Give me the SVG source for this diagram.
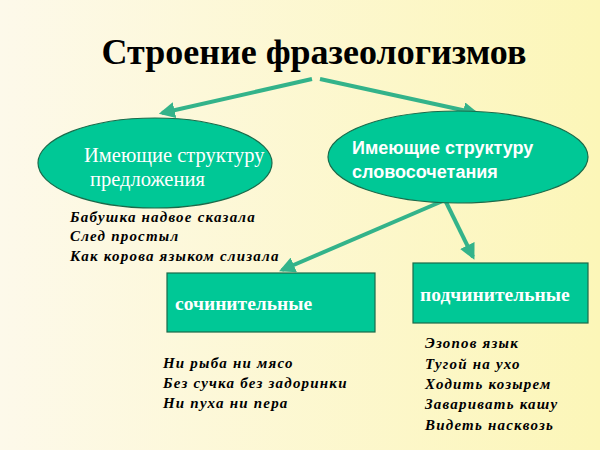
<svg xmlns="http://www.w3.org/2000/svg" width="600" height="450" viewBox="0 0 600 450">
<defs>
<linearGradient id="bg" x1="0" y1="0" x2="1" y2="0"><stop offset="0" stop-color="#fdf9ea"/><stop offset="1" stop-color="#fcf6b8"/></linearGradient>
<marker id="ah" viewBox="0 0 10 10" refX="8" refY="5" markerWidth="4" markerHeight="4" orient="auto"><path d="M0,0 L10,5 L0,10 z" fill="#33b38a"/></marker>
</defs>
<style>
.n{fill:#00c896;stroke:#1a6a4a;stroke-width:1.2}
.c{stroke:#33b38a;stroke-width:4;fill:none;marker-end:url(#ah)}
.w{fill:#fff;font-family:"Liberation Serif",serif;font-size:20.5px}
.s{fill:#fff;font-family:"Liberation Sans",sans-serif;font-size:18px;font-weight:bold}
.b{fill:#fff;font-family:"Liberation Serif",serif;font-size:19.5px;font-weight:bold}
.e{fill:#000;font-family:"Liberation Serif",serif;font-size:15px;font-weight:bold;font-style:italic;letter-spacing:1.2px}
</style>
<rect width="600" height="450" fill="url(#bg)"/>
<text x="314" y="64" text-anchor="middle" font-family="Liberation Serif,serif" font-size="36" font-weight="bold">Строение фразеологизмов</text>
<g id="connectors">
<line class="c" x1="312" y1="79" x2="162" y2="113"/>
<line class="c" x1="320" y1="79" x2="476" y2="113"/>
<line class="c" x1="445" y1="200" x2="282" y2="270"/>
<line class="c" x1="445" y1="200" x2="473" y2="257"/>
</g>
<g id="n1"><ellipse class="n" cx="155" cy="163" rx="117" ry="45"/><text class="w" x="84" y="162">Имеющие структуру</text><text class="w" x="90" y="186">предложения</text></g>
<g id="n2"><ellipse class="n" cx="458" cy="157" rx="130" ry="46"/><text class="s" x="352" y="154">Имеющие структуру</text><text class="s" x="352" y="178">словосочетания</text></g>
<g id="n3"><rect class="n" x="167" y="273" width="208" height="59"/><text class="b" x="175" y="310">сочинительные</text></g>
<g id="n4"><rect class="n" x="413" y="263" width="175" height="60"/><text class="b" x="420" y="301">подчинительные</text></g>
<g id="ex1"><text class="e" x="70" y="222">Бабушка надвое сказала</text><text class="e" x="70" y="241">След простыл</text><text class="e" x="70" y="261">Как корова языком слизала</text></g>
<g id="ex2"><text class="e" x="163" y="368">Ни рыба ни мясо</text><text class="e" x="163" y="388">Без сучка без задоринки</text><text class="e" x="163" y="408">Ни пуха ни пера</text></g>
<g id="ex3"><text class="e" x="425" y="348">Эзопов язык</text><text class="e" x="425" y="369">Тугой на ухо</text><text class="e" x="425" y="389">Ходить козырем</text><text class="e" x="425" y="409">Заваривать кашу</text><text class="e" x="425" y="430">Видеть насквозь</text></g>
</svg>
